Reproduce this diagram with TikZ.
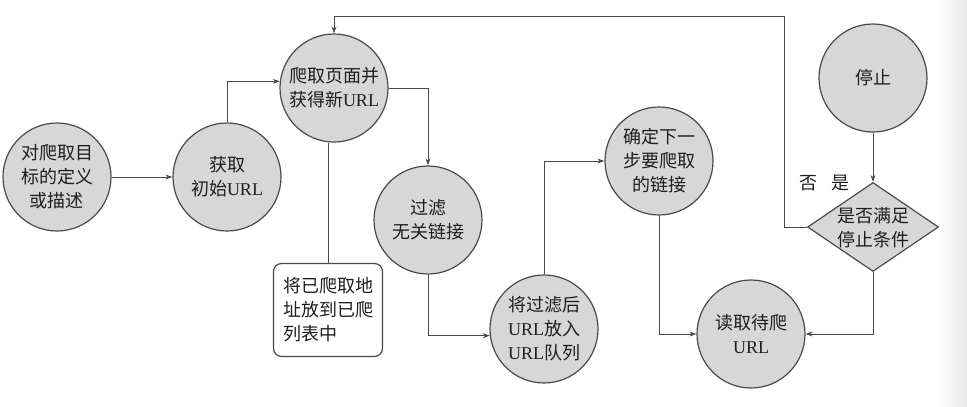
\documentclass[tikz,border=0pt]{standalone}
\usepackage{fontspec}
\setmainfont{Noto Sans CJK SC}
\newfontfamily\lat{Liberation Serif}
\usetikzlibrary{arrows.meta,shapes.geometric}
\definecolor{nodefill}{HTML}{D7D7D7}
\definecolor{edgec}{HTML}{4A4A4A}
\definecolor{ink}{HTML}{1E1E1E}
\newcommand{\myurl}{{\lat URL}}
\begin{document}
\begin{tikzpicture}[x=1pt,y=-1pt,
  txt/.style={text=ink, align=center, font=\fontsize{18}{24}\selectfont},
  circ/.style={txt, circle, draw=edgec, fill=nodefill, line width=1.2pt,
    minimum size=108pt, inner sep=0pt},
  boxn/.style={txt, align=left, rectangle, rounded corners=8pt, draw=edgec,
    fill=white, line width=1.2pt, minimum width=109pt, minimum height=93pt, inner sep=0pt},
  decn/.style={diamond, draw=edgec, fill=nodefill, line width=1.2pt,
    minimum width=131pt, minimum height=89pt, inner sep=0pt},
  ln/.style={draw=edgec, line width=1pt},
  arr/.style={ln, -{Stealth[length=7pt,width=5pt]}}]
\useasboundingbox (0,0) rectangle (967,407);
\shade[left color=white, right color=gray!16] (935,0) rectangle (967,407);

\node[circ] (n1) at (57,177) {对爬取目\\标的定义\\或描述};
\node[circ] (n2) at (227,177) {获取\\初始\myurl};
\node[circ] (n3) at (334,88) {爬取页面并\\获得新\myurl};
\node[boxn] (box) at (328,310) {将已爬取地\\址放到已爬\\列表中};
\node[circ] (n4) at (428,220) {过滤\\无关链接};
\node[circ] (n5) at (544,329) {将过滤后\\\myurl 放入\\\myurl 队列};
\node[circ] (n6) at (659,161) {确定下一\\步要爬取\\的链接};
\node[circ] (n7) at (751,334) {读取待爬\\\myurl};
\node[circ] (stop) at (873,78) {停止};
\node[decn] (d) at (873,227) {};
\node[txt] (dt) at (873,228) {是否满足\\停止条件};
\node[txt] (no) at (808,183) {否};
\node[txt] (yes) at (840,183) {是};
\coordinate (top) at (784,16);

\draw[arr] (n1) -- (n2);
\draw[arr] (n2.north) |- (n3.173);
\draw[arr] (n3.east) -| (n4.north);
\draw[ln] (box.north) -- (box.north |- n3.south);
\draw[arr] (n4.south) |- (n5.187);
\draw[arr] (n5.north) |- (n6.west);
\draw[arr] (n6.south) |- (n7.west);
\draw[arr] (d.south) |- (n7.east);
\draw[arr] (stop.south) -- (d.north);
\draw[arr] (d.west) -| (top) -| (n3.north);
\end{tikzpicture}
\end{document}
